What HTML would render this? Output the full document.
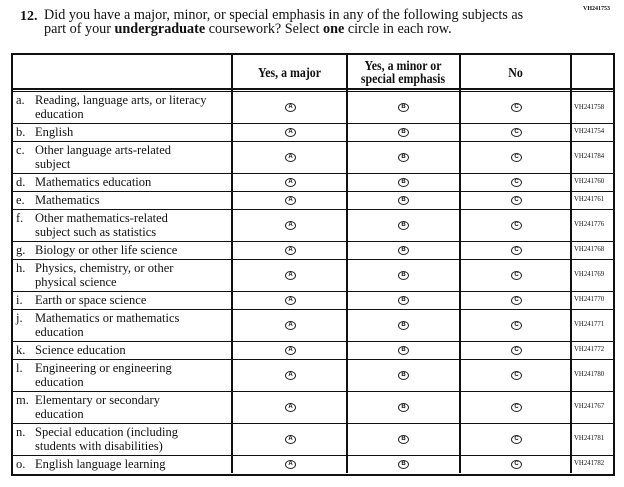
<!DOCTYPE html>
<html><head><meta charset="utf-8"><style>
body{margin:0;width:624px;height:487px;background:#fff;position:relative;font-family:"Liberation Serif",serif;color:#111;overflow:hidden}
.a{position:absolute}
.h{background:#111}
.r{position:absolute;left:12px;width:601px;border-bottom:1.5px solid #111}
.l{position:absolute;left:4px;font-size:12.5px;line-height:14px}
.l b{font-weight:normal;position:absolute;left:0}
.l span{display:block;padding-left:19px;white-space:nowrap}
.c{position:absolute;width:9px;height:7px;border:1px solid #222;border-radius:50%;font-size:6px;line-height:7px;text-align:center;font-family:"Liberation Sans",sans-serif;font-weight:bold}
.code{position:absolute;left:574px;font-size:6.8px;font-family:"Liberation Serif",serif}
.hd{position:absolute;top:54px;height:36px;display:flex;align-items:center;justify-content:center;text-align:center;font-weight:bold;font-size:13.5px;line-height:13px;transform:scaleX(0.88)}
</style></head><body>
<div class="a" style="left:583px;top:6px;font-size:6px;font-weight:bold">VH241753</div>
<div class="a" style="left:20px;top:9px;font-size:14px;font-weight:bold">12.</div>
<div class="a" style="left:44px;top:9px;font-size:14.2px;line-height:13.5px;white-space:nowrap">Did you have a major, minor, or special emphasis in any of the following subjects as<br>part of your <b>undergraduate</b> coursework? Select <b>one</b> circle in each row.</div>
<div class="a" style="left:11px;top:53px;width:600px;height:419px;border:2px solid #111"></div>
<div class="a h" style="left:12px;top:88px;width:601px;height:1.5px"></div>
<div class="a h" style="left:12px;top:90.5px;width:601px;height:1px"></div>
<div class="a h" style="left:231px;top:54px;width:2px;height:419px"></div>
<div class="a h" style="left:346px;top:54px;width:2px;height:419px"></div>
<div class="a h" style="left:459px;top:54px;width:2px;height:419px"></div>
<div class="a h" style="left:570px;top:54px;width:2px;height:419px"></div>
<div class="hd" style="left:233px;width:113px">Yes, a major</div>
<div class="hd" style="left:338px;width:130px">Yes, a minor or<br>special emphasis</div>
<div class="hd" style="left:461px;width:109px">No</div>

<div class="r" style="top:91px;height:32px"><div class="l" style="top:2px"><b>a.</b><span>Reading, language arts, or literacy</span><span>education</span></div></div>
<div class="r" style="top:123px;height:18px"><div class="l" style="top:2px"><b>b.</b><span>English</span></div></div>
<div class="r" style="top:141px;height:32px"><div class="l" style="top:2px"><b>c.</b><span>Other language arts-related</span><span>subject</span></div></div>
<div class="r" style="top:173px;height:18px"><div class="l" style="top:2px"><b>d.</b><span>Mathematics education</span></div></div>
<div class="r" style="top:191px;height:18px"><div class="l" style="top:2px"><b>e.</b><span>Mathematics</span></div></div>
<div class="r" style="top:209px;height:32px"><div class="l" style="top:2px"><b>f.</b><span>Other mathematics-related</span><span>subject such as statistics</span></div></div>
<div class="r" style="top:241px;height:18px"><div class="l" style="top:2px"><b>g.</b><span>Biology or other life science</span></div></div>
<div class="r" style="top:259px;height:32px"><div class="l" style="top:2px"><b>h.</b><span>Physics, chemistry, or other</span><span>physical science</span></div></div>
<div class="r" style="top:291px;height:18px"><div class="l" style="top:2px"><b>i.</b><span>Earth or space science</span></div></div>
<div class="r" style="top:309px;height:32px"><div class="l" style="top:2px"><b>j.</b><span>Mathematics or mathematics</span><span>education</span></div></div>
<div class="r" style="top:341px;height:18px"><div class="l" style="top:2px"><b>k.</b><span>Science education</span></div></div>
<div class="r" style="top:359px;height:32px"><div class="l" style="top:2px"><b>l.</b><span>Engineering or engineering</span><span>education</span></div></div>
<div class="r" style="top:391px;height:32px"><div class="l" style="top:2px"><b>m.</b><span>Elementary or secondary</span><span>education</span></div></div>
<div class="r" style="top:423px;height:32px"><div class="l" style="top:2px"><b>n.</b><span>Special education (including</span><span>students with disabilities)</span></div></div>
<div class="r" style="top:455px;height:18px;border-bottom:none"><div class="l" style="top:2px"><b>o.</b><span>English language learning</span></div></div>

<div style="position:absolute;left:0;top:0">
<div class="c" style="left:285px;top:103px">A</div><div class="c" style="left:398px;top:103px">B</div><div class="c" style="left:511px;top:103px">C</div><div class="code" style="top:104px">VH241758</div>
<div class="c" style="left:285px;top:128px">A</div><div class="c" style="left:398px;top:128px">B</div><div class="c" style="left:511px;top:128px">C</div><div class="code" style="top:128px">VH241754</div>
<div class="c" style="left:285px;top:153px">A</div><div class="c" style="left:398px;top:153px">B</div><div class="c" style="left:511px;top:153px">C</div><div class="code" style="top:153px">VH241784</div>
<div class="c" style="left:285px;top:178px">A</div><div class="c" style="left:398px;top:178px">B</div><div class="c" style="left:511px;top:178px">C</div><div class="code" style="top:178px">VH241760</div>
<div class="c" style="left:285px;top:196px">A</div><div class="c" style="left:398px;top:196px">B</div><div class="c" style="left:511px;top:196px">C</div><div class="code" style="top:196px">VH241761</div>
<div class="c" style="left:285px;top:221px">A</div><div class="c" style="left:398px;top:221px">B</div><div class="c" style="left:511px;top:221px">C</div><div class="code" style="top:221px">VH241776</div>
<div class="c" style="left:285px;top:246px">A</div><div class="c" style="left:398px;top:246px">B</div><div class="c" style="left:511px;top:246px">C</div><div class="code" style="top:246px">VH241768</div>
<div class="c" style="left:285px;top:271px">A</div><div class="c" style="left:398px;top:271px">B</div><div class="c" style="left:511px;top:271px">C</div><div class="code" style="top:271px">VH241769</div>
<div class="c" style="left:285px;top:296px">A</div><div class="c" style="left:398px;top:296px">B</div><div class="c" style="left:511px;top:296px">C</div><div class="code" style="top:296px">VH241770</div>
<div class="c" style="left:285px;top:321px">A</div><div class="c" style="left:398px;top:321px">B</div><div class="c" style="left:511px;top:321px">C</div><div class="code" style="top:321px">VH241771</div>
<div class="c" style="left:285px;top:346px">A</div><div class="c" style="left:398px;top:346px">B</div><div class="c" style="left:511px;top:346px">C</div><div class="code" style="top:346px">VH241772</div>
<div class="c" style="left:285px;top:371px">A</div><div class="c" style="left:398px;top:371px">B</div><div class="c" style="left:511px;top:371px">C</div><div class="code" style="top:371px">VH241780</div>
<div class="c" style="left:285px;top:403px">A</div><div class="c" style="left:398px;top:403px">B</div><div class="c" style="left:511px;top:403px">C</div><div class="code" style="top:403px">VH241767</div>
<div class="c" style="left:285px;top:435px">A</div><div class="c" style="left:398px;top:435px">B</div><div class="c" style="left:511px;top:435px">C</div><div class="code" style="top:435px">VH241781</div>
<div class="c" style="left:285px;top:460px">A</div><div class="c" style="left:398px;top:460px">B</div><div class="c" style="left:511px;top:460px">C</div><div class="code" style="top:460px">VH241782</div>
</div>
</body></html>
